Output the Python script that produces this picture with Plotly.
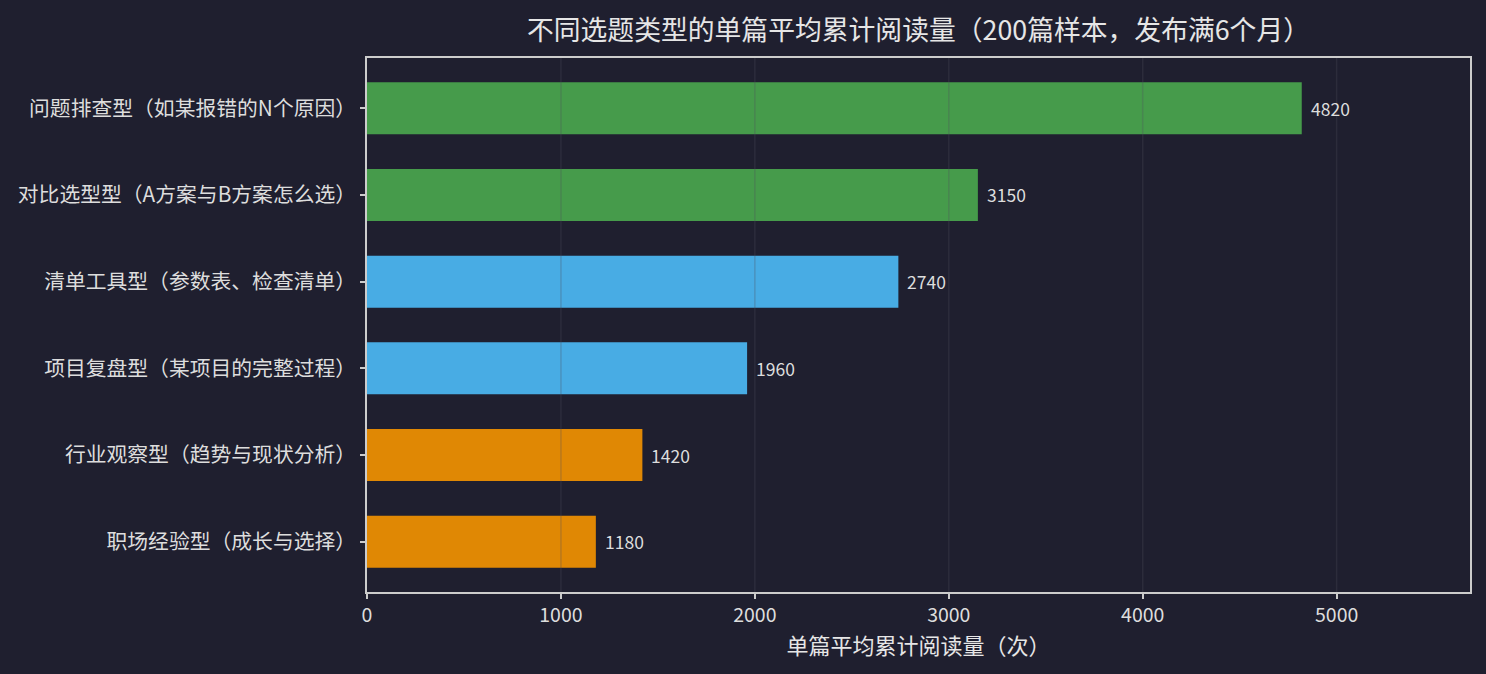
import plotly.graph_objects as go

# 数据
categories = [
    "问题排查型（如某报错的N个原因）",
    "对比选型型（A方案与B方案怎么选）",
    "清单工具型（参数表、检查清单）",
    "项目复盘型（某项目的完整过程）",
    "行业观察型（趋势与现状分析）",
    "职场经验型（成长与选择）",
]
reads = [4820, 3150, 2740, 1960, 1420, 1180]
tiers = ["high", "high", "mid", "mid", "low", "low"]
x_ticks = [0, 1000, 2000, 3000, 4000, 5000]

tier_colors = {"high": "#469b4b", "mid": "#48ace4", "low": "#e08804"}
bg = "#1f1f2f"
font = "Noto Sans CJK SC"

# dal basso verso l'alto
cats = categories[::-1]
vals = reads[::-1]
cols = [tier_colors[t] for t in tiers[::-1]]

fig = go.Figure()
fig.add_trace(go.Bar(
    x=vals, y=cats, orientation="h",
    marker=dict(color=cols, line=dict(width=0)),
    width=0.6, hoverinfo="x+y"))

# etichette valori
for c, v in zip(cats, vals):
    fig.add_annotation(x=v, y=c, text=str(v), showarrow=False,
                       xanchor="left", xshift=7,
                       font=dict(size=17.5, color="#dddddd", family=font))

# griglia sopra le barre
for t in x_ticks[1:]:
    fig.add_shape(type="line", xref="x", yref="paper", x0=t, x1=t, y0=0, y1=1,
                  line=dict(color="rgba(80,80,95,0.28)", width=1.5), layer="above")

fig.update_layout(
    width=1486, height=674,
    paper_bgcolor=bg, plot_bgcolor=bg,
    margin=dict(l=367, r=16, t=58, b=82),
    showlegend=False,
    font=dict(family=font, color="#dddddd"),
    title=dict(text="不同选题类型的单篇平均累计阅读量（200篇样本，发布满6个月）",
               x=0.5, xref="paper", xanchor="center", y=0.955, yanchor="middle",
               font=dict(size=26.8, color="#e6e6e6", family=font)),
    xaxis=dict(range=[0, max(reads) * 1.18], tickvals=x_ticks,
               showgrid=False, zeroline=False,
               showline=True, linecolor="#cccccc", linewidth=1.5, mirror=True,
               ticks="outside", ticklen=5, tickcolor="#cccccc", tickwidth=1.5,
               tickfont=dict(size=19.5, color="#dddddd"),
               title=dict(text="单篇平均累计阅读量（次）", standoff=9,
                          font=dict(size=22, color="#e6e6e6"))),
    yaxis=dict(range=[-0.58, 5.58], showgrid=False, zeroline=False,
               showline=True, linecolor="#cccccc", linewidth=1.5, mirror=True,
               ticks="outside", ticklen=5, tickcolor="#cccccc", tickwidth=1.5,
               tickfont=dict(size=20.8, color="#dddddd")),
)

# niente margine bianco della pagina, niente modebar
fig.write_html("out.html", config={"displayModeBar": False},
               post_script="document.body.style.margin='0';"
                           "document.body.style.background='#1f1f2f';")
